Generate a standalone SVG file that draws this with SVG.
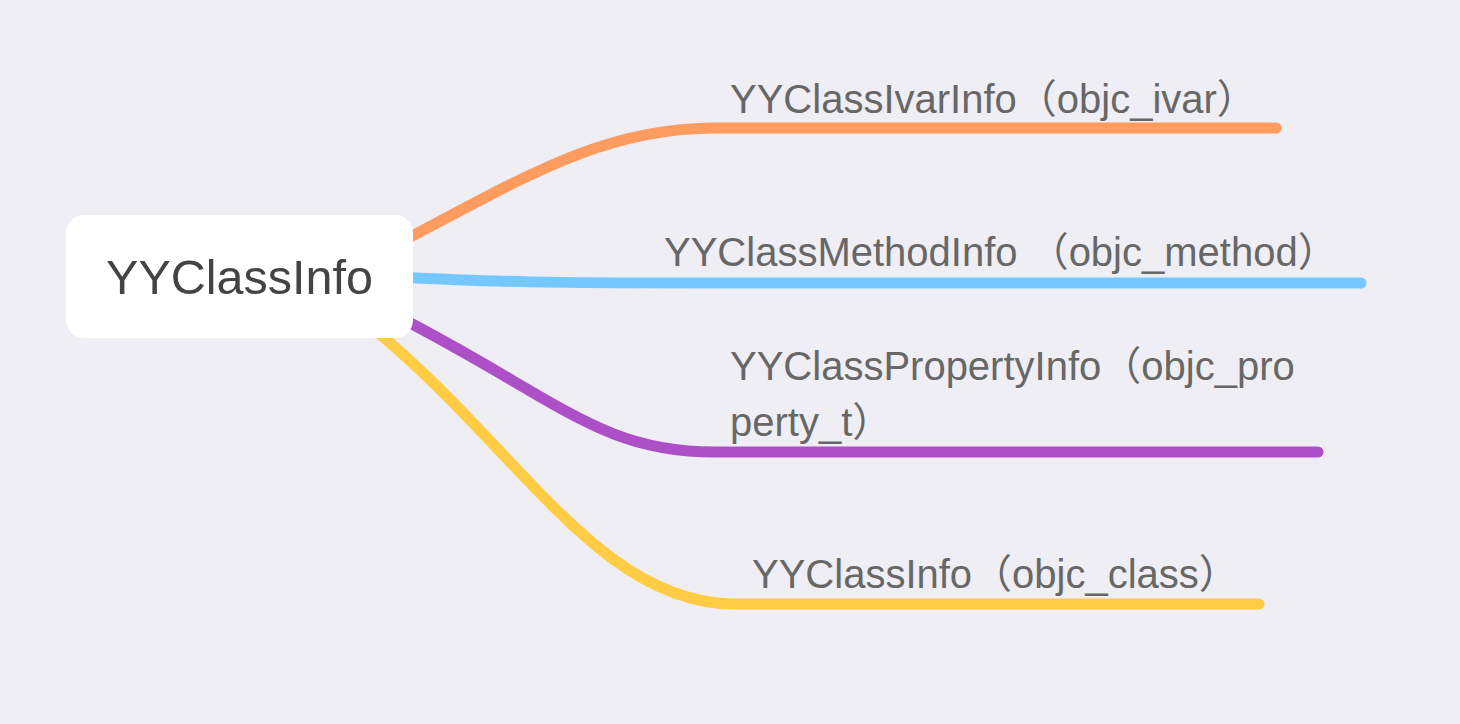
<svg xmlns="http://www.w3.org/2000/svg" width="1460" height="724" viewBox="0 0 1460 724">
<style>
.bg{fill:#EFEEF5}
.c{fill:none;stroke-width:11;stroke-linecap:round;stroke-linejoin:round}
.lbl{font-family:"Liberation Sans","Noto Sans CJK SC",sans-serif;font-size:40px;fill:#676767}
.root{font-family:"Liberation Sans","Noto Sans CJK SC",sans-serif;font-size:48.5px;fill:#444444}
</style>
<rect class="bg" x="0" y="0" width="1460" height="724"/>
<g id="connectors">
<path class="c" stroke="#FE9B5F" d="M 395 245 C 520 180, 600 128, 715 128 L 1276 128"/>
<path class="c" stroke="#75C8FF" d="M 395 277 C 500 282, 550 283, 700 283 L 1361 283"/>
<path class="c" stroke="#AD50C8" d="M 395 315 C 560 400, 600 452, 715 452 L 1318 452"/>
<path class="c" stroke="#FFCC44" d="M 375 330 C 520 450, 600 604, 735 604 L 1259 604"/>
</g>
<g id="root">
<rect x="66" y="215" width="347" height="123" rx="18" fill="#FFFFFF"/>
<text class="root" x="239.5" y="294" text-anchor="middle">YYClassInfo</text>
</g>
<g id="ivar">
<text class="lbl" x="730" y="113">YYClassIvarInfo（objc_ivar）</text>
</g>
<g id="method">
<text class="lbl" x="664" y="266">YYClassMethodInfo （objc_method）</text>
</g>
<g id="property">
<text class="lbl" x="730" y="380">YYClassPropertyInfo（objc_pro</text>
<text class="lbl" x="730" y="436">perty_t）</text>
</g>
<g id="class">
<text class="lbl" x="752" y="588">YYClassInfo（objc_class）</text>
</g>
</svg>
